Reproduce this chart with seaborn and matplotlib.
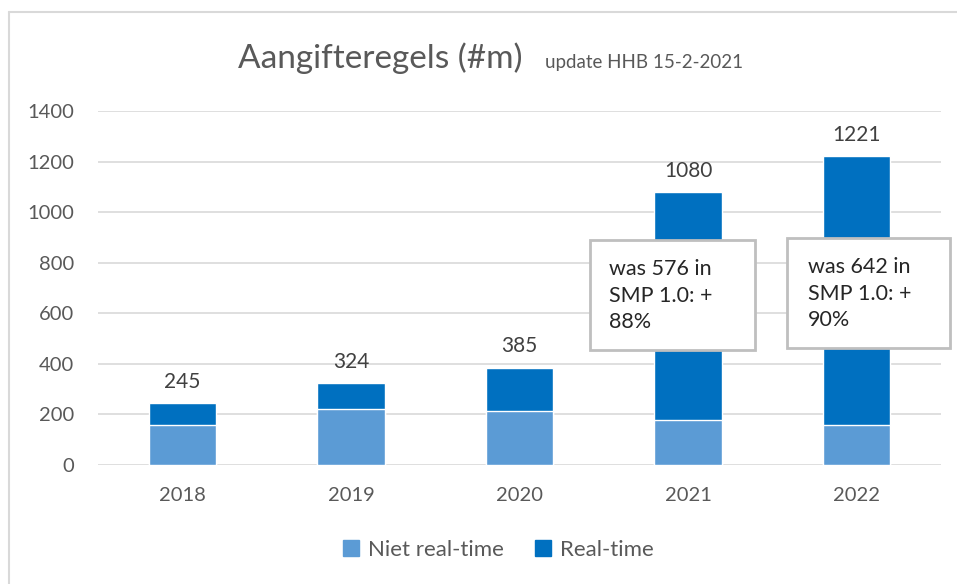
import matplotlib
matplotlib.use('Agg')
import matplotlib.pyplot as plt
import seaborn as sns
import pandas as pd
from matplotlib.patches import Rectangle
from matplotlib.lines import Line2D

years = ['2018', '2019', '2020', '2021', '2022']
niet_realtime = [158, 220, 213, 178, 158]
totals = [245, 324, 385, 1080, 1221]
notes = {'2021': 'was 576 in\nSMP 1.0: +\n88%', '2022': 'was 642 in\nSMP 1.0: +\n90%'}

LIGHT = '#5B9BD5'
DARK = '#0070C0'
GREY = '#595959'

sns.set_style('white')
plt.rcParams['font.family'] = ['Lato', 'DejaVu Sans']

df = pd.DataFrame({'jaar': years, 'niet': niet_realtime, 'totaal': totals})

W, H = 957, 584
fig = plt.figure(figsize=(W / 100, H / 100), dpi=100)
ax = fig.add_axes([98 / W, 1 - 465 / H, (941 - 98) / W, (465 - 111) / H])

# stacked: total (real-time on top) first, then niet real-time over it
sns.barplot(data=df, x='jaar', y='totaal', color=DARK, width=0.4, ax=ax, saturation=1)
sns.barplot(data=df, x='jaar', y='niet', color=LIGHT, width=0.4, ax=ax, saturation=1)

ax.set_ylim(0, 1400)
ax.set_xlim(-0.5, 4.5)
ax.set_yticks(range(0, 1401, 200))
ax.yaxis.grid(True, color='#D9D9D9', lw=1.2)
ax.set_axisbelow(True)
for s in ax.spines.values():
    s.set_visible(False)
ax.tick_params(axis='both', length=0, labelsize=14.5, labelcolor=GREY)
ax.tick_params(axis='y', pad=17)
ax.tick_params(axis='x', pad=16)
ax.set_xlabel('')
ax.set_ylabel('')

for i, t in enumerate(totals):
    ax.text(i, t + 45, str(t), ha='center', va='bottom', fontsize=15, color='#404040')

# title
fig.text(238 / W, 1 - 68 / H, 'Aangifteregels (#m)', fontsize=24, color=GREY,
         ha='left', va='baseline')
fig.text(545 / W, 1 - 68 / H, 'update HHB 15-2-2021', fontsize=13.5, color=GREY,
         ha='left', va='baseline')

# annotation boxes
boxes = [('2021', 590, 240, 755, 350, 609), ('2022', 787, 238, 950, 348, 808)]
for key, x0, y0, x1, y1, tx in boxes:
    fig.add_artist(Rectangle((x0 / W, 1 - y1 / H), (x1 - x0) / W, (y1 - y0) / H,
                             transform=fig.transFigure, facecolor='white',
                             edgecolor='#BFBFBF', lw=2))
    fig.text(tx / W, 1 - (y0 + 19) / H, notes[key], fontsize=15.5, color='#262626',
             ha='left', va='top', linespacing=1.42)

# legend
handles = [Line2D([], [], marker='s', ls='', color=LIGHT, markersize=11),
           Line2D([], [], marker='s', ls='', color=DARK, markersize=11)]
fig.legend(handles, ['Niet real-time', 'Real-time'], loc='center',
           bbox_to_anchor=(494 / W, 1 - 550 / H), ncol=2, frameon=False,
           fontsize=16, labelcolor=GREY, handletextpad=0.0, columnspacing=1.0,
           handlelength=1.5)

# outer chart frame
fig.add_artist(Line2D([9 / W, 9 / W], [0, 1 - 12 / H], transform=fig.transFigure,
                      color='#D9D9D9', lw=1.5))
fig.add_artist(Line2D([9 / W, 1], [1 - 12 / H, 1 - 12 / H], transform=fig.transFigure,
                      color='#D9D9D9', lw=1.5))

fig.savefig('out.png', dpi=100)
